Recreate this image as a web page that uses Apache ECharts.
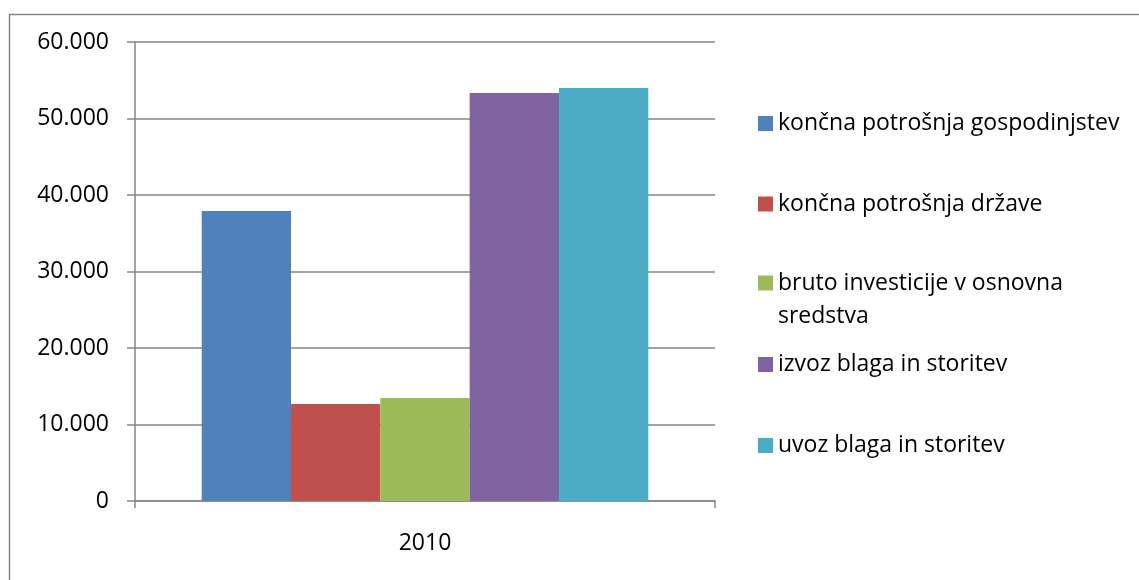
<!DOCTYPE html>
<html>
<head>
<meta charset="utf-8">
<script src="https://cdn.jsdelivr.net/npm/echarts@6/dist/echarts.min.js"></script>
<style>
  html, body { margin: 0; padding: 0; background: #fff; }
  #myEcharts { width: 1139px; height: 580px; }
</style>
</head>
<body>
<div id="myEcharts"></div>
<script>
// data
var categories = ['2010'];
var seriesNames = [
  'končna potrošnja gospodinjstev',
  'končna potrošnja države',
  'bruto investicije v osnovna sredstva',
  'izvoz blaga in storitev',
  'uvoz blaga in storitev'
];
var seriesValues = [37900, 12680, 13460, 53330, 53990];
var colors = ['#4F81BD', '#C0504D', '#9BBB59', '#8064A2', '#4BACC6'];

var axisGray = '#868686';
var font = 'Open Sans';

var chartDom = document.getElementById('myEcharts');
var myChart = echarts.init(chartDom);

// one legend per item so each sits where Excel put it
var legendCenters = [123.5, 204, 283, 364.5, 445.5];
var lineH = 33;
var legends = seriesNames.map(function (name, i) {
  var twoLines = name.indexOf('sredstva') >= 0;
  return {
    data: [name],
    left: 758,
    // wrapped item: blank line on top keeps the first line level with the marker
    top: twoLines ? legendCenters[i] - lineH * 1.5 : legendCenters[i] - lineH / 2,
    padding: 0,
    itemWidth: 15,
    itemHeight: 15,
    itemGap: 0,
    icon: 'rect',
    selectedMode: false,
    formatter: function (n) {
      return n === 'bruto investicije v osnovna sredstva' ? ' \nbruto investicije v osnovna\nsredstva' : n;
    },
    textStyle: {
      fontFamily: font,
      fontSize: 23,
      color: '#000',
      lineHeight: lineH
    }
  };
});

var option = {
  animation: false,
  color: colors,
  graphic: [{
    type: 'rect',
    left: 7,
    top: 12,
    shape: { width: 1200, height: 700 },
    style: { fill: 'none', stroke: axisGray, lineWidth: 1.5 },
    silent: true
  }],
  grid: { left: 135, right: 424, top: 42, bottom: 79 },
  legend: legends,
  xAxis: {
    type: 'category',
    data: categories,
    axisLine: { lineStyle: { color: axisGray, width: 1.5 } },
    axisTick: { show: true, length: 7, lineStyle: { color: axisGray, width: 1.5 } },
    axisLabel: { margin: 31, fontFamily: font, fontSize: 23, color: '#000' }
  },
  yAxis: {
    type: 'value',
    min: 0,
    max: 60000,
    interval: 10000,
    axisLine: { show: true, lineStyle: { color: axisGray, width: 1.5 } },
    axisTick: { show: true, length: 8, lineStyle: { color: axisGray, width: 1.5 } },
    splitLine: { lineStyle: { color: axisGray, width: 1.5 } },
    axisLabel: {
      margin: 26,
      fontFamily: font,
      fontSize: 23,
      color: '#000',
      formatter: function (v) {
        return v === 0 ? '0' : String(v).replace(/\B(?=(\d{3})+(?!\d))/g, '.');
      }
    }
  },
  series: seriesNames.map(function (name, i) {
    return {
      name: name,
      type: 'bar',
      barGap: '0%',
      barCategoryGap: '23%',
      data: [seriesValues[i]],
      itemStyle: { color: colors[i] }
    };
  })
};

myChart.setOption(option);
</script>
</body>
</html>
